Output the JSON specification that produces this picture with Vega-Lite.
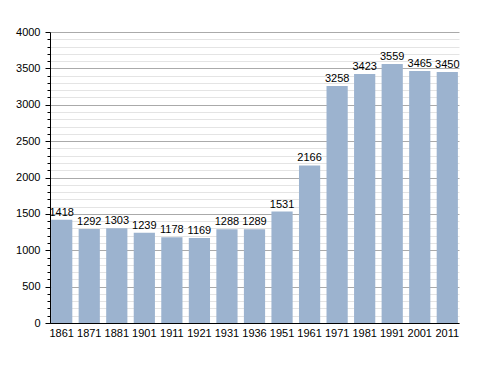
{
  "$schema": "https://vega.github.io/schema/vega-lite/v6.json",
  "autosize": "none",
  "width": 409,
  "height": 291,
  "padding": {"left": 50, "top": 32, "right": 29, "bottom": 50},
  "background": "white",
  "config": {
    "view": {"stroke": null},
    "font": "Liberation Sans",
    "axis": {"labelFont": "Liberation Sans", "labelFontSize": 11, "labelColor": "#000", "domainColor": "#000", "tickColor": "#000"}
  },
  "data": {
    "values": [
      {"year": "1861", "pop": 1418},
      {"year": "1871", "pop": 1292},
      {"year": "1881", "pop": 1303},
      {"year": "1901", "pop": 1239},
      {"year": "1911", "pop": 1178},
      {"year": "1921", "pop": 1169},
      {"year": "1931", "pop": 1288},
      {"year": "1936", "pop": 1289},
      {"year": "1951", "pop": 1531},
      {"year": "1961", "pop": 2166},
      {"year": "1971", "pop": 3258},
      {"year": "1981", "pop": 3423},
      {"year": "1991", "pop": 3559},
      {"year": "2001", "pop": 3465},
      {"year": "2011", "pop": 3450}
    ]
  },
  "encoding": {
    "x": {"field": "year", "type": "ordinal", "sort": null, "scale": {"paddingInner": 0.23, "paddingOuter": 0.04},
      "axis": {"title": null, "labelAngle": 0, "ticks": false, "labelPadding": 4, "domainColor": "#000"}}
  },
  "layer": [
    {
      "mark": {"type": "bar", "opacity": 0},
      "encoding": {
        "y": {"field": "pop", "type": "quantitative", "scale": {"domain": [0, 4000], "nice": false},
          "axis": {"orient": "left", "title": null, "values": [0,100,200,300,400,600,700,800,900,1100,1200,1300,1400,1600,1700,1800,1900,2100,2200,2300,2400,2600,2700,2800,2900,3100,3200,3300,3400,3600,3700,3800,3900],
            "labels": false, "grid": true, "gridColor": "#e4e4e4", "tickSize": 3, "domain": false, "zindex": 0}}
      }
    },
    {
      "mark": {"type": "bar", "color": "#9cb3cf"},
      "encoding": {
        "y": {"field": "pop", "type": "quantitative", "scale": {"domain": [0, 4000], "nice": false},
          "axis": {"orient": "left", "title": null, "values": [0,500,1000,1500,2000,2500,3000,3500,4000], "format": "d",
            "grid": true, "gridColor": "#aaaaaa", "tickSize": 5, "labelPadding": 5, "domainColor": "#000", "zindex": 0}}
      }
    },
    {
      "mark": {"type": "text", "baseline": "bottom", "dy": -2, "fontSize": 11, "color": "#000"},
      "encoding": {
        "y": {"field": "pop", "type": "quantitative", "axis": null},
        "text": {"field": "pop", "type": "quantitative", "format": "d"}
      }
    }
  ],
  "resolve": {"axis": {"y": "independent"}}
}
